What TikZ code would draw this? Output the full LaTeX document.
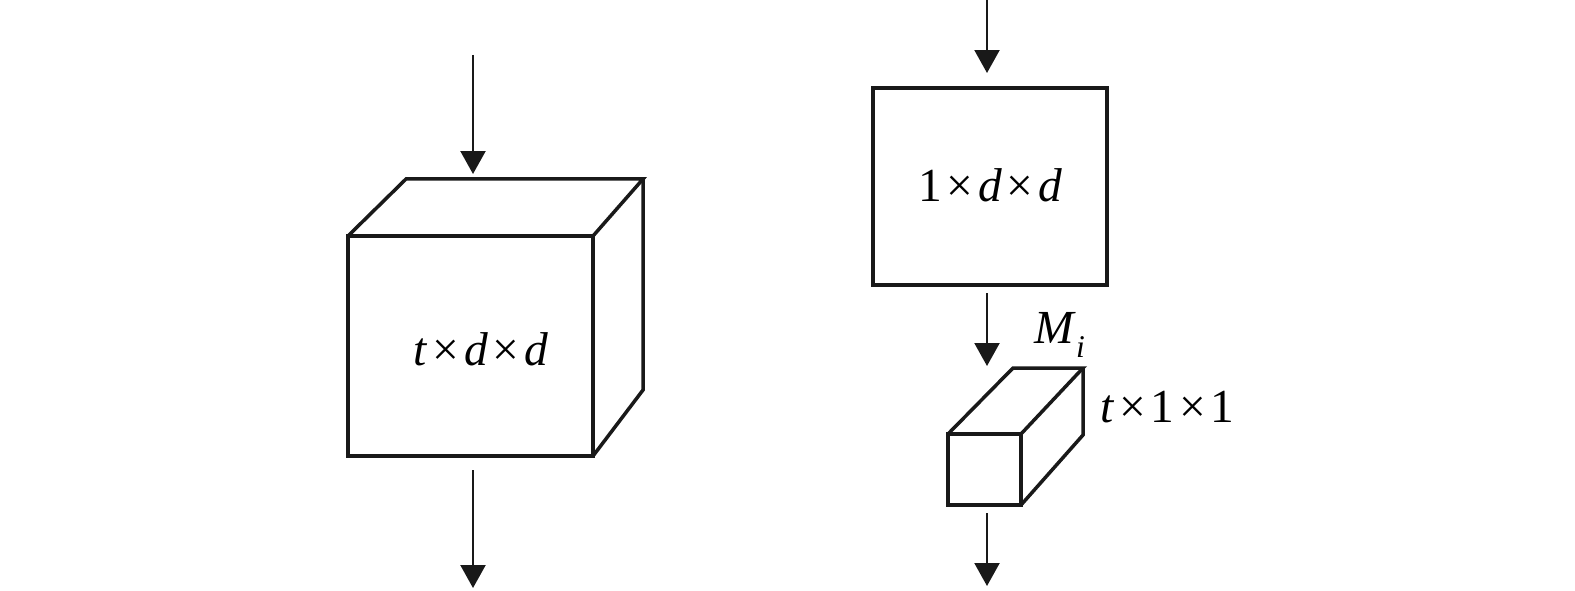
\documentclass[tikz,border=0pt]{standalone}
\usepackage{fontspec}
\setmainfont{Liberation Serif}
\usetikzlibrary{arrows.meta}
\tikzset{
  boxline/.style={line width=0.07cm, line join=miter, black!90},
  flow/.style={line width=0.045cm, black!90, -{Triangle[width=0.5cm,length=0.46cm]}},
  lbl/.style={inner sep=0pt, font=\fontsize{27pt}{31pt}\selectfont},
}
\newcommand{\tms}{\hspace{0.1em}×\hspace{0.1em}}
\begin{document}
\begin{tikzpicture}[x=0.02cm,y=-0.02cm]
\useasboundingbox (0,0) rectangle (1575,591);
% left cube
\coordinate (lftl) at (348,236);
\coordinate (lftr) at (593,236);
\coordinate (lfbr) at (593,456);
\coordinate (lfbl) at (348,456);
\coordinate (lbtl) at (406,179);
\coordinate (lbtr) at (643,179);
\coordinate (lbbr) at (643,390);
\draw[boxline] (lftl) rectangle (lfbr);
\draw[boxline] (lftl) -- (lbtl) -- (lbtr) -- (lftr);
\draw[boxline] (lbtr) -- (lbbr) -- (lfbr);
\node[lbl, anchor=base] (ltext) at (481,365) {\textit{t}\tms\textit{d}\tms\textit{d}};
\coordinate (la0) at (473,55);
\coordinate (la1) at (473,174);
\coordinate (lb0) at (473,470);
\coordinate (lb1) at (473,588);
\draw[flow] (la0) -- (la1);
\draw[flow] (lb0) -- (lb1);
% right rectangle
\node[boxline, draw, fill=white, minimum width=4.68cm, minimum height=3.94cm, inner sep=0pt] (rect) at (990,186.5) {};
\node[lbl, anchor=base] (rtext) at (990,202) {1\tms\textit{d}\tms\textit{d}};
\coordinate (ra0) at (987,0);
\coordinate (ra1) at (987,73);
\draw[flow] (ra0) -- (ra1);
\coordinate (rb0) at (987,293);
\coordinate (rb1) at (987,366);
\draw[flow] (rb0) -- (rb1);
% small cube
\coordinate (sftl) at (948,434);
\coordinate (sftr) at (1021,434);
\coordinate (sfbr) at (1021,505);
\coordinate (sbtl) at (1013,368);
\coordinate (sbtr) at (1083,368);
\coordinate (sbbr) at (1083,435);
\draw[boxline] (sftl) rectangle (sfbr);
\draw[boxline] (sftl) -- (sbtl) -- (sbtr) -- (sftr);
\draw[boxline] (sbtr) -- (sbbr) -- (sfbr);
\node[lbl, anchor=base west] (mi) at (1034,343) {\textit{M}\raisebox{-0.3em}{\fontsize{18pt}{20pt}\selectfont\textit{i}}};
\node[lbl, anchor=base west] (stext) at (1100,422) {\textit{t}\tms 1\tms 1};
\coordinate (rc0) at (987,513);
\coordinate (rc1) at (987,586);
\draw[flow] (rc0) -- (rc1);
\end{tikzpicture}
\end{document}
